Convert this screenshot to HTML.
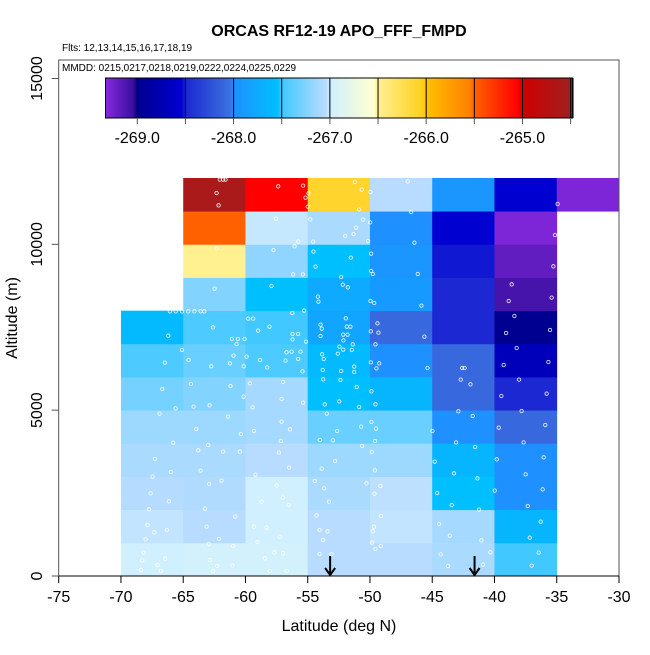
<!DOCTYPE html>
<html><head><meta charset="utf-8"><style>
body{margin:0;background:#fff;}
svg text{font-family:"Liberation Sans",sans-serif;}
</style></head><body>
<svg id="chart" width="650" height="650" xmlns="http://www.w3.org/2000/svg">
<rect width="650" height="650" fill="#fff"/>
<g id="cells"></g>
<g id="pts"></g>
<g id="axes"></g>
<g id="cbar"></g>
<text x="339" y="36" text-anchor="middle" font-size="16" font-weight="bold">ORCAS RF12-19 APO_FFF_FMPD</text>
<text x="62" y="51" font-size="10">Flts: 12,13,14,15,16,17,18,19</text>
<text x="62" y="71" font-size="10">MMDD: 0215,0217,0218,0219,0222,0224,0225,0229</text>
<text x="339" y="631" text-anchor="middle" font-size="16">Latitude (deg N)</text>
<text transform="translate(17,318) rotate(-90)" text-anchor="middle" font-size="16">Altitude (m)</text>
</svg>
<script>
const latBins = [-70,-65,-60,-55,-50,-45,-40,-35];
const altBins = [0,1000,2000,3000,4000,5000,6000,7000,8000,9000,10000,11000];
// values[row][col], row = altitude bin, col = latitude bin; null = no data
const values = [
[-267.0,-266.98,-266.98,-267.05,-267.05,-267.1,-267.5,null],
[-267.03,-267.05,-267.0,-267.05,-267.03,-267.12,-267.65,null],
[-267.06,-267.08,-267.0,-267.1,-267.04,-267.55,-268.0,null],
[-267.1,-267.1,-267.05,-267.15,-267.15,-267.65,-268.0,null],
[-267.15,-267.15,-267.12,-267.35,-267.35,-268.0,-268.1,null],
[-267.3,-267.25,-267.12,-267.55,-267.65,-268.1,-268.5,null],
[-267.45,-267.35,-267.45,-267.6,-268.0,-268.1,-268.7,null],
[-267.6,-267.45,-267.5,-267.8,-268.1,-268.5,-269.0,null],
[null,-267.25,-267.55,-267.75,-267.9,-268.5,-269.1,null],
[null,-266.5,-267.2,-267.55,-267.95,-268.52,-269.2,null],
[null,-265.5,-267.02,-267.1,-268.0,-268.55,-269.3,null],
[null,-264.6,-265.05,-266.1,-267.05,-267.95,-268.55,-269.3]
];
const xTicks = [-75,-70,-65,-60,-55,-50,-45,-40,-35,-30];
const yTicks = [0,5000,10000,15000];
const cbTicks = [-269.0,-268.0,-267.0,-266.0,-265.0];
const cbSeps = [-269.0,-268.5,-268.0,-267.5,-267.0,-266.5,-266.0,-265.5,-265.0,-264.5];
const arrowLats = [-53.2,-41.6];
const ptLat = [-66.68,-65.61,-66.9,-65.8,-67.27,-67.46,-66.0,-67.62,-66.15,-67.75,-67.86,-67.32,-66.31,-68.02,-68.18,-68.29,-67.06,-66.44,-68.39,-66.79,
-64.38,-61.2,-64.17,-62.88,-61.41,-63.95,-60.37,-63.79,-62.99,-61.79,-63.6,-62.91,-61.92,-63.26,-60.82,-63.12,-62.13,-62.96,-60.98,-62.86,-62.27,-61.06,-62.59,
-59.65,-60.15,-59.43,-59.32,-60.45,-59.19,-57.5,-58.71,-59.32,-58.31,-59.03,-57.69,-58.44,-56.97,-58.04,-56.7,-56.97,-57.1,-55.37,-57.1,-56.43,-57.16,-57.32,-56.49,-57.0,-56.54,-57.24,
-53.76,-52.37,-51.06,-53.63,-52.47,-50.87,-53.47,-52.64,-50.71,-54.03,-52.98,-50.63,-52.8,-53.87,-54.43,-53.68,-53.3,-54.29,-54.05,-53.41,-53.76,-54.05,-53.09,
-49.88,-49.56,-49.88,-49.51,-49.59,-49.85,-49.61,-50.28,-49.16,-49.64,-49.13,-49.69,-49.77,-49.83,-49.13,-49.56,
-42.71,-41.93,-42.9,-41.75,-44.98,-43.08,-41.56,-44.8,-43.25,-41.37,-44.61,-43.43,-41.24,-44.45,-43.59,-41.05,-44.32,-40.33,-43.73,-40.92,
-38.03,-39.45,-35.81,-37.82,-39.66,-35.92,-37.66,-39.82,-36.05,-37.5,-39.98,-36.13,-37.33,-36.29,-37.17,-36.45,-37.01,
-62.32,-62.16,-57.37,-55.37,-55.18,-54.94,-55.0,-51.22,-50.66,-50.87,-49.96,-46.96,-46.7,-34.93,-57.56,-54.8,-50.55,-51.11,-51.32,-51.99,-49.99,-55.77,-54.56,-50.15,-46.43,-35.14,
-62.32,-57.75,-56.06,-54.54,-51.54,-54.37,-49.91,-35.27,-56.17,-55.39,-52.32,-49.91,-49.77,-46.16,-62.48,-57.91,-52.18,-51.78,-54.19,-54.14,-49.96,-49.66,-45.87,-38.62,-38.86,-35.41,-38.4,-39.07,-35.54,-38.22,-39.26,-35.67,
-66.07,-65.6,-65.1,-64.6,-64.1,-63.6,-63.31,-66.2,-62.61,-59.78,-59.38,-58.98,-58.07,-56.25,-55.29,-61.09,-60.6,-60.07,-60.72,-56.22,-55.77,-56.22,-55.13,-53.97,-53.87,-53.97,-51.94,-51.86,-51.57,-52.15,-51.8,-52.13,-49.93,-49.4,-49.32,-49.56,-45.63,-51.38,-52.45,-52.15,-52.58,-51.46,-53.84,-53.71,-53.79,-52.32,-51.27,-51.27,-49.93,-49.48,-49.26,-45.38,-42.6,-42.4,
-66.47,-64.57,-62.75,-61.25,-60.13,-59.91,-58.82,-58.26,-56.7,-56.3,-55.58,-55.77,-56.78,-55.42,-65.1,-60.96,-62.05,-61.8,-61.6];
const ptAlt = [5638,5055,4894,4020,3528,2995,3136,2492,2251,2010,1538,1317,1387,1106,704,472,332,523,181,151,
5789,5729,5106,5146,4804,4432,4281,3789,3950,3749,3176,2774,2874,2030,1789,1487,1116,965,905,482,302,312,151,
5809,5407,5085,4372,3749,3055,2724,2241,1487,1457,1025,714,533,684,151,151,5849,5337,5226,4653,4422,4070,3719,3266,2362,2141,1186,
5930,5910,5698,5176,5266,5095,4894,4372,4503,4100,4090,3920,3467,3236,2864,2643,2241,1829,1387,1347,1085,663,653,
5568,5176,4643,4442,4070,3739,3186,2794,2714,2482,1809,1487,1347,1005,905,814,
5920,5779,4965,4824,4372,4030,3890,3447,3096,2945,2503,2141,2000,1568,1216,1076,653,714,302,342,
5920,5427,5497,4975,4472,4553,4030,3518,3578,3065,2573,2613,2111,1638,1156,704,312,
11548,11176,11749,11769,11407,11538,11136,11879,11648,11055,11578,11899,10975,11216,10774,10754,10744,10502,10311,10251,10663,10080,10080,10100,10050,10281,
9879,9829,9940,9779,9598,9327,9718,9337,9095,9095,9015,9196,9106,9106,8663,8744,8784,8704,8422,8271,8291,8231,8151,8794,8291,8392,7839,7326,7417,6874,6362,6452,
7980,7980,7980,7980,7980,7980,7980,7246,7497,7759,7759,7397,7517,7930,8000,7146,7146,7146,6995,7296,7296,7135,7065,7578,7457,7236,7769,7517,7517,7276,7276,7105,7377,7618,7337,6985,7216,6985,6915,6824,6704,6814,6684,6543,6211,6181,6312,6150,6442,6261,6412,6271,6271,6271,
6432,6513,6322,6412,6322,6613,6513,6291,6744,6764,6764,6543,6493,6171,6814,6643,11950,11950,11950];
const X0=58.7, X1=619, Y0=576, YPX=398/12000;
function xS(v){return X0+(v+75)*(X1-X0)/45;}
function yS(v){return Y0-v*YPX;}
const stops=[[-269.35,"#8a2be2"],[-269.05,"#3a0fa0"],[-269.0,"#000090"],[-268.55,"#0000d0"],[-268.5,"#1c28d2"],[-268.05,"#3a70e0"],[-268.0,"#1e90ff"],[-267.55,"#00bfff"],[-267.5,"#40c8ff"],[-267.05,"#b8dcff"],[-267.0,"#d0f0ff"],[-266.55,"#ffffd0"],[-266.5,"#fff090"],[-266.05,"#ffd020"],[-266.0,"#ffc000"],[-265.55,"#ff8000"],[-265.5,"#ff6000"],[-265.05,"#ff0000"],[-265.0,"#d00000"],[-264.5,"#a02020"]];
function hex(c){return [1,3,5].map(i=>parseInt(c.substr(i,2),16));}
function col(v){
 if(v<=stops[0][0])return stops[0][1];
 for(let i=1;i<stops.length;i++){ if(v<=stops[i][0]){const a=stops[i-1],b=stops[i];const t=(v-a[0])/(b[0]-a[0]);const A=hex(a[1]),B=hex(b[1]);return "rgb("+A.map((x,k)=>Math.round(x+(B[k]-x)*t)).join(",")+")";}}
 return stops[stops.length-1][1];
}
const NS="http://www.w3.org/2000/svg";
function mk(tag,attrs,parent){const e=document.createElementNS(NS,tag);for(const k in attrs)e.setAttribute(k,attrs[k]);parent.appendChild(e);return e;}
const cells=document.getElementById('cells');
values.forEach((row,r)=>row.forEach((v,c)=>{
 if(v===null)return;
 const x=xS(latBins[c]),x2=xS(latBins[c]+5),y=yS(altBins[r]+1000),y2=yS(altBins[r]);
 const e=mk('rect',{x:x,y:y,width:x2-x+0.4,height:y2-y+0.4,fill:col(v)},cells);
 
 
}));
const pts=document.getElementById('pts');
ptLat.forEach((la,i)=>{
 const e=mk('circle',{cx:xS(la),cy:yS(ptAlt[i]),r:1.7,fill:'none',stroke:'#fff','stroke-width':0.9,opacity:0.85},pts);
 
 
});
const ax=document.getElementById('axes');
const box=mk('rect',{x:X0,y:60,width:X1-X0,height:Y0-60,fill:'none',stroke:'#555','stroke-width':1},ax);


mk('line',{x1:X0,y1:Y0,x2:X1,y2:Y0,stroke:'#000','stroke-width':1},ax);
xTicks.forEach(t=>{
 mk('line',{x1:xS(t),y1:Y0,x2:xS(t),y2:Y0+7,stroke:'#000'},ax);
 const tx=mk('text',{x:xS(t),y:Y0+26,'text-anchor':'middle','font-size':16},ax);
 tx.textContent=t;
 
 
});
yTicks.forEach(t=>{
 mk('line',{x1:X0-7,y1:yS(t),x2:X0,y2:yS(t),stroke:'#555'},ax);
 const tx=mk('text',{transform:'translate(42,'+yS(t)+') rotate(-90)','text-anchor':'middle','font-size':16},ax);
 tx.textContent=t;
 
 
});
arrowLats.forEach(la=>{
 const x=xS(la);
 const g=mk('g',{},ax);
 
 
 mk('line',{x1:x,y1:556,x2:x,y2:575,stroke:'#000','stroke-width':2},g);
 mk('polyline',{points:(x-5)+',568 '+x+',575 '+(x+5)+',568',fill:'none',stroke:'#000','stroke-width':2},g);
});
const cb=document.getElementById('cbar');
const CV0=-269.33,CV1=-264.48,CX0=105.5,CPX=96.3,CY=78,CH=40;
function cx(v){return CX0+(v-CV0)*CPX;}
for(let px=0;px<cx(CV1)-CX0;px++){
 const v=CV0+px/CPX;
 mk('rect',{x:CX0+px,y:CY,width:1.2,height:CH,fill:col(v)},cb);
}
mk('rect',{x:CX0,y:CY,width:cx(CV1)-CX0,height:CH,fill:'none',stroke:'#000','stroke-width':1},cb);
cbSeps.forEach(s=>{
 mk('line',{x1:cx(s),y1:CY,x2:cx(s),y2:CY+CH,stroke:'#000','stroke-width':1},cb);
 mk('line',{x1:cx(s),y1:CY+CH,x2:cx(s),y2:CY+CH+6,stroke:'#555','stroke-width':1},cb);
});
cbTicks.forEach(t=>{
 const tx=mk('text',{x:cx(t),y:CY+CH+25,'text-anchor':'middle','font-size':16},cb);
 tx.textContent=t.toFixed(1);
 
 
});
</script>
</body></html>
